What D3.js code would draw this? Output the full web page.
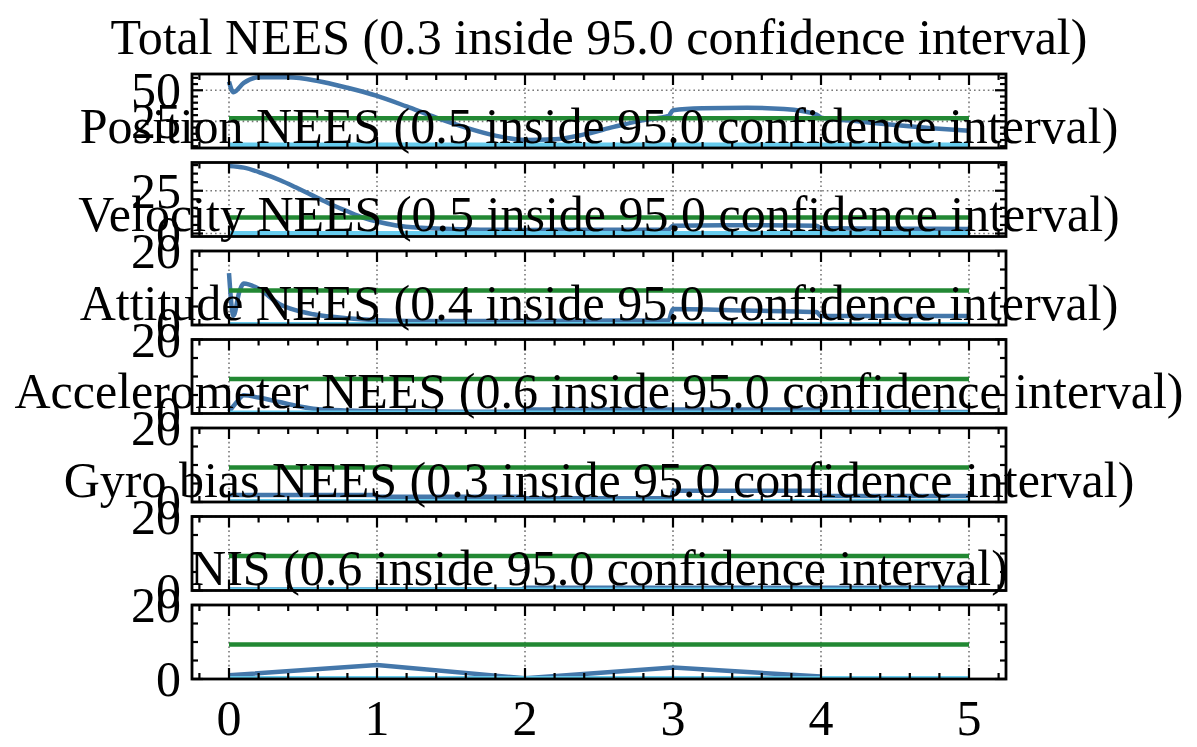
<!DOCTYPE html>
<html>
<head>
<meta charset="utf-8">
<script src="https://cdn.jsdelivr.net/npm/d3@7"></script>
<style>
  html, body { margin: 0; padding: 0; background: #fff; }
  svg { display: block; }
  text { font-family: "Liberation Serif", "Times New Roman", serif; fill: #000; }
</style>
</head>
<body>
<svg id="chart" width="1197" height="747"></svg>
<script>
// ---------------- data ----------------
const titles = [
  "Total NEES (0.3 inside 95.0 confidence interval)",
  "Position NEES (0.5 inside 95.0 confidence interval)",
  "Velocity NEES (0.5 inside 95.0 confidence interval)",
  "Attitude NEES (0.4 inside 95.0 confidence interval)",
  "Accelerometer NEES (0.6 inside 95.0 confidence interval)",
  "Gyro bias NEES (0.3 inside 95.0 confidence interval)",
  "NIS (0.6 inside 95.0 confidence interval)"
];

const xTicks = [0, 1, 2, 3, 4, 5];
const boundTimes = [0, 5];

const totalT = [0, 0.03, 0.1, 0.2, 0.4, 0.6, 0.8, 1.0, 1.2, 1.4, 1.6, 1.8, 2.0, 2.2, 2.4, 2.6, 2.8, 2.97, 3.0, 3.2, 3.5, 3.75, 3.97, 4.0, 4.25, 4.5, 4.75, 5.0];
const totalV = [57, 48.5, 56, 60.5, 60.5, 57.5, 52, 45.5, 37, 28, 20, 13.5, 10, 10.5, 14.5, 20.5, 26, 29.3, 33.9, 35.5, 36, 35, 30.5, 28, 25, 22, 19.5, 17.5];

const posT = [0, 0.1, 0.23, 0.35, 0.45, 0.57, 0.68, 0.8, 0.9, 1.0, 1.13, 1.3, 1.5, 2.0, 2.5, 2.97, 3.0, 3.5, 3.97, 4.0, 4.5, 5.0];
const posV = [39.5, 38.5, 35, 31, 27, 22, 17.4, 13, 9.5, 7, 4.7, 3.3, 2.7, 2.1, 2.2, 2.3, 4.6, 4.8, 4.6, 3.0, 2.8, 2.7];

const velT = [0, 0.03, 0.07, 0.1, 0.2, 0.34, 0.45, 0.57, 0.8, 1.0, 1.24, 2.0, 2.97, 3.0, 3.5, 3.97, 4.0, 5.0];
const velV = [14, 2.5, 9, 11.2, 9.8, 5.7, 4, 2.9, 1.8, 1.3, 1.1, 1.1, 1.3, 4.3, 3.9, 3.5, 2.4, 2.4];

const attT = [0, 0.05, 0.1, 0.2, 0.34, 0.45, 0.57, 0.8, 1.0, 1.5, 1.98, 2.0, 3.0, 3.98, 4.0, 5.0];
const attV = [0.5, 3, 4.9, 4.3, 3.1, 2.1, 1.3, 0.8, 0.6, 0.5, 0.5, 1.1, 1.1, 1.1, 0.4, 0.4];

const accT = [0, 0.99, 1.0, 1.99, 2.0, 2.99, 3.0, 3.99, 4.0, 5.0];
const accV = [1.9, 1.9, 1.4, 1.4, 1.0, 1.0, 3.05, 3.05, 1.6, 1.6];

const gyroT = [0, 1.0, 1.98, 2.0, 3.0, 4.0, 5.0];
const gyroV = [0.3, 0.3, 0.3, 0.75, 0.75, 0.75, 0.75];

const nisT = [0, 1, 2, 3, 4];
const nisV = [1.0, 3.8, 0.2, 3.1, 0.65];

const lowerBounds = [6.262, 0.216, 0.216, 0.216, 0.216, 0.216, 0.216];
const upperBounds = [27.488, 9.348, 9.348, 9.348, 9.348, 9.348, 9.348];

const yMajorTicks = [[25, 50], [0, 25], [0, 20], [0, 20], [0, 20], [0, 20], [0, 20]];

const seriesT = [totalT, posT, velT, attT, accT, gyroT, nisT];
const seriesV = [totalV, posV, velV, attV, accV, gyroV, nisV];

// ---------------- layout ----------------
const svg = d3.select("#chart");
const left = 192, right = 1006, panelH = 74, firstTop = 74, step = 88.5;
const yDomains = [[3.55, 63.1], [-1.75, 41.5], [0, 20], [0, 20], [0, 20], [0, 20], [0, 20]];
const blue = "#4477AA", green = "#228833", cyan = "#66CCEE";
const fontSize = 50;

const x = d3.scaleLinear().domain([-0.25, 5.25]).range([left, right]);
const xMinor = d3.range(-0.2, 5.21, 0.2).map(v => +v.toFixed(2)).filter(v => Math.abs(v - Math.round(v)) > 1e-6);

const defs = svg.append("defs");
const titleLayer = [];

titles.forEach((title, i) => {
  const top = firstTop + i * step, bottom = top + panelH;
  const y = d3.scaleLinear().domain(yDomains[i]).range([bottom, top]);
  const g = svg.append("g");

  defs.append("clipPath").attr("id", "clip" + i)
    .append("rect").attr("x", left).attr("y", top).attr("width", right - left).attr("height", panelH);

  g.append("rect").attr("x", left).attr("y", top).attr("width", right - left).attr("height", panelH).attr("fill", "#fff");

  // grid
  const yMaj = yMajorTicks[i];
  g.selectAll(".gx").data(xTicks).join("line")
    .attr("x1", d => x(d)).attr("x2", d => x(d)).attr("y1", top).attr("y2", bottom)
    .attr("stroke", "#777").attr("stroke-width", 1.6).attr("stroke-dasharray", "1.6,3");
  g.selectAll(".gy").data(yMaj).join("line")
    .attr("x1", left).attr("x2", right).attr("y1", d => y(d)).attr("y2", d => y(d))
    .attr("stroke", "#777").attr("stroke-width", 1.6).attr("stroke-dasharray", "1.6,3");

  const plot = g.append("g").attr("clip-path", `url(#clip${i})`);
  const line = d3.line().x(d => x(d[0])).y(d => y(d[1]))
    .curve(i === 6 ? d3.curveLinear : d3.curveMonotoneX);

  const pts = seriesT[i].map((t, k) => [t, seriesV[i][k]]);
  plot.append("path").attr("d", line(pts)).attr("fill", "none")
    .attr("stroke", blue).attr("stroke-width", 4.5).attr("stroke-linejoin", "round");
  plot.append("path").attr("d", d3.line().x(d => x(d)).y(() => y(upperBounds[i]))(boundTimes))
    .attr("fill", "none").attr("stroke", green).attr("stroke-width", 4.5);
  plot.append("path").attr("d", d3.line().x(d => x(d)).y(() => y(lowerBounds[i]))(boundTimes))
    .attr("fill", "none").attr("stroke", cyan).attr("stroke-width", 4.5);

  // ticks (inward, all sides)
  const yDom = yDomains[i];
  const yMinor = d3.range(Math.ceil(yDom[0] / 5) * 5, yDom[1] + 1e-9, 5).filter(v => !yMaj.includes(v));
  const tick = (arr, len, isX) => {
    arr.forEach(v => {
      if (isX) {
        const px = x(v);
        g.append("line").attr("x1", px).attr("x2", px).attr("y1", bottom).attr("y2", bottom - len).attr("stroke", "#000").attr("stroke-width", 2.2);
        g.append("line").attr("x1", px).attr("x2", px).attr("y1", top).attr("y2", top + len).attr("stroke", "#000").attr("stroke-width", 2.2);
      } else {
        const py = y(v);
        g.append("line").attr("x1", left).attr("x2", left + len).attr("y1", py).attr("y2", py).attr("stroke", "#000").attr("stroke-width", 2.2);
        g.append("line").attr("x1", right).attr("x2", right - len).attr("y1", py).attr("y2", py).attr("stroke", "#000").attr("stroke-width", 2.2);
      }
    });
  };
  tick(xTicks, 11, true);
  tick(xMinor, 6, true);
  tick(yMaj, 11, false);
  tick(yMinor, 6, false);

  g.append("rect").attr("x", left).attr("y", top).attr("width", right - left).attr("height", panelH)
    .attr("fill", "none").attr("stroke", "#000").attr("stroke-width", 2.8);

  // y tick labels
  g.selectAll(".yl").data(yMaj).join("text")
    .attr("x", left - 11).attr("y", d => y(d)).attr("dy", "0.34em")
    .attr("text-anchor", "end").attr("font-size", fontSize).text(d => d);

  // x tick labels on bottom panel only
  if (i === titles.length - 1) {
    g.selectAll(".xl").data(xTicks).join("text")
      .attr("x", d => x(d)).attr("y", bottom + 56)
      .attr("text-anchor", "middle").attr("font-size", fontSize).text(d => d);
  }

  titleLayer.push({ title, top });
});

// titles drawn on top
svg.append("g").selectAll("text").data(titleLayer).join("text")
  .attr("x", (left + right) / 2).attr("y", d => d.top - 20)
  .attr("text-anchor", "middle").attr("font-size", fontSize).text(d => d.title);
</script>
</body>
</html>
